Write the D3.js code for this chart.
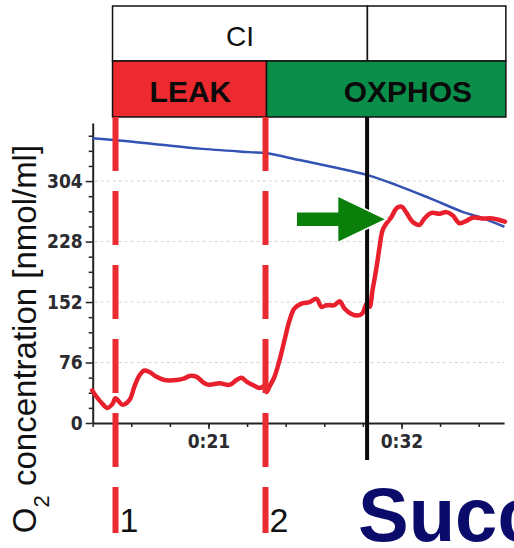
<!DOCTYPE html>
<html>
<head>
<meta charset="utf-8">
<script src="https://d3js.org/d3.v7.min.js"></script>
<style>
  body { margin: 0; background: #fff; }
  svg { display: block; }
</style>
</head>
<body>
<div id="chart"></div>
<script>
// O2 concentration trace (time in min, nmol/ml)
const blueTime  = [14.38, 16.67, 18.61, 20.49, 23.34, 24.31, 26.19, 28.07, 30.06, 31.72, 33.60, 35.48, 36.62, 37.87];
const blueValue = [357.7, 353.5, 349.0, 344.8, 340.4, 339.0, 330.4, 321.6, 311.5, 299.0, 282.6, 265.4, 257.5, 246.6];

const redTime  = [14.37, 14.62, 14.96, 15.24, 15.53, 15.70, 16.10, 16.50, 16.78, 17.07, 17.35, 17.64, 18.04, 18.49,
                  19.18, 19.63, 19.92, 20.32, 20.77, 21.06, 21.63, 22.20, 22.60, 22.88, 23.17, 23.51, 23.91, 24.19,
                  24.31, 24.48, 24.76, 25.05, 25.33, 25.62, 25.90, 26.30, 26.76, 27.16, 27.44, 27.73, 28.18, 28.47,
                  28.75, 29.15, 29.49, 29.78, 30.01, 30.18, 30.35, 30.58, 30.75, 30.92, 31.15, 31.43, 31.72, 32.00,
                  32.29, 32.63, 33.03, 33.31, 33.71, 34.17, 34.56, 34.91, 35.31, 35.70, 36.05, 36.62, 37.19, 37.90];
const redValue = [41, 33, 24, 19, 24, 31, 23, 29, 46, 60, 66, 64, 58, 54,
                  54, 56, 59, 58, 50, 48, 50, 48, 54, 57, 52, 48, 44, 46,
                  39, 46, 58, 79, 104, 129, 144, 150, 152, 156, 146, 148, 148, 153,
                  144, 137, 135, 138, 150, 146, 167, 196, 221, 242, 251, 259, 270, 272,
                  264, 253, 249, 257, 264, 263, 265, 261, 251, 254, 258, 257, 257, 253];

const yMajor = [0, 76, 152, 228, 304];
const yMinor = [19, 38, 57, 95, 114, 133, 171, 190, 209, 247, 266, 285, 323, 342, 361];
const xTicks = [14.4, 16.6, 18.8, 21, 23.2, 25.4, 27.6, 29.8, 32, 34.2, 36.4];
const xLabelTicks = [21, 32];
const xLabels = ["0:21", "0:32"];

const substrateLabels = ["CI", ""];
const substrateBounds = [15.53, 30.06, 37.95];
const stateLabels = ["LEAK", "OXPHOS"];
const stateBounds = [15.53, 24.31, 37.95];
const stateLabelTimes = [19.97, 32.37];

const eventTimes = [15.70, 24.25];
const eventLabels = ["1", "2"];
const titrationTime = 30.04;
const arrowFrom = [26.0, 256];
const arrowTo = [31.15, 256];

const W = 514, H = 548;
const x = d3.scaleLinear().domain([14.4, 37.85]).range([92.7, 504.1]);
const y = d3.scaleLinear().domain([0, 377]).range([423, 123]);

const svg = d3.select("#chart").append("svg")
    .attr("width", W).attr("height", H)
    .style("font-family", "'Liberation Sans', Arial, sans-serif");

// header boxes
const boxTop = 6, boxMid = 61, boxBot = 117;
const stateColor = ["#ec2a2f", "#0b8e4a"];

svg.selectAll(".sub")
    .data(substrateLabels)
    .enter().append("rect")
    .attr("x", (d, i) => x(substrateBounds[i]))
    .attr("y", boxTop)
    .attr("width", (d, i) => x(substrateBounds[i + 1]) - x(substrateBounds[i]))
    .attr("height", boxMid - boxTop)
    .attr("fill", "#fff")
    .attr("stroke", "#111")
    .attr("stroke-width", 1.5);

svg.selectAll(".subText")
    .data(substrateLabels)
    .enter().append("text")
    .attr("x", (d, i) => (x(substrateBounds[i]) + x(substrateBounds[i + 1])) / 2)
    .attr("y", 46)
    .attr("text-anchor", "middle")
    .style("font-size", "28px")
    .attr("fill", "#111")
    .text(d => d);

svg.selectAll(".state")
    .data(stateLabels)
    .enter().append("rect")
    .attr("x", (d, i) => x(stateBounds[i]))
    .attr("y", boxMid)
    .attr("width", (d, i) => x(stateBounds[i + 1]) - x(stateBounds[i]))
    .attr("height", boxBot - boxMid)
    .attr("fill", (d, i) => stateColor[i])
    .attr("stroke", "#111")
    .attr("stroke-width", 1.5);

svg.selectAll(".stateText")
    .data(stateLabels)
    .enter().append("text")
    .attr("x", (d, i) => x(stateLabelTimes[i]))
    .attr("y", 102)
    .attr("text-anchor", "middle")
    .style("font-size", "30px")
    .style("font-weight", "bold")
    .attr("fill", "#0a0a0a")
    .text(d => d);

// grid
svg.append("g")
    .selectAll("line")
    .data(yMajor.slice(1))
    .enter().append("line")
    .attr("x1", x.range()[0] + 2).attr("x2", x.range()[1])
    .attr("y1", d => y(d)).attr("y2", d => y(d))
    .attr("stroke", "#d4d4d4")
    .attr("stroke-width", 1)
    .attr("stroke-dasharray", "3,3");

// axes
const tickFont = "'Liberation Sans Narrow', 'DejaVu Sans Condensed', 'Liberation Sans', sans-serif";

const yMinorAxis = svg.append("g")
    .attr("transform", `translate(${x.range()[0]},0)`)
    .call(d3.axisLeft(y).tickValues(yMinor).tickSize(4).tickSizeOuter(0).tickFormat(""));
yMinorAxis.select(".domain").attr("stroke", "#222").attr("stroke-width", 2);
yMinorAxis.selectAll(".tick line").attr("stroke", "#222").attr("stroke-width", 1.5);

const yAxis = svg.append("g")
    .attr("transform", `translate(${x.range()[0]},0)`)
    .call(d3.axisLeft(y).tickValues(yMajor).tickSize(7).tickPadding(3));
yAxis.select(".domain").remove();
yAxis.selectAll(".tick line").attr("stroke", "#222").attr("stroke-width", 1.5);
yAxis.selectAll(".tick text")
    .style("font-family", tickFont)
    .style("font-size", "19px")
    .style("font-weight", "bold")
    .attr("fill", "#2b2b30");

const xAxis = svg.append("g")
    .attr("transform", `translate(0,${y(0)})`)
    .call(d3.axisBottom(x).tickValues(xTicks).tickSize(4).tickSizeOuter(0).tickFormat(""));
xAxis.select(".domain").attr("stroke", "#222").attr("stroke-width", 2);
xAxis.selectAll(".tick line").attr("stroke", "#222").attr("stroke-width", 1.5);

const xLab = svg.append("g")
    .attr("transform", `translate(0,${y(0)})`)
    .call(d3.axisBottom(x).tickValues(xLabelTicks).tickSize(6).tickPadding(6)
        .tickFormat((d, i) => xLabels[i]));
xLab.select(".domain").remove();
xLab.selectAll(".tick line").attr("stroke", "#222").attr("stroke-width", 1.5);
xLab.selectAll(".tick text")
    .style("font-family", tickFont)
    .style("font-size", "19px")
    .style("font-weight", "bold")
    .attr("fill", "#2b2b30");

// y title
svg.append("text")
    .attr("transform", `translate(36,${339}) rotate(-90)`)
    .attr("text-anchor", "middle")
    .style("font-size", "33px")
    .attr("fill", "#111")
    .call(t => {
        t.append("tspan").text("O");
        t.append("tspan").attr("baseline-shift", "sub").style("font-size", "22px").text("2");
        t.append("tspan").text(" concentration [nmol/ml]");
    });

// traces
const blueData = blueTime.map((t, i) => [t, blueValue[i]]);
const redData = redTime.map((t, i) => [t, redValue[i]]);
const line = d3.line().x(d => x(d[0])).y(d => y(d[1])).curve(d3.curveCatmullRom);

svg.append("path")
    .datum(blueData)
    .attr("fill", "none")
    .attr("stroke", "#3452b4")
    .attr("stroke-width", 2.5)
    .attr("d", line);

svg.append("path")
    .datum(redData)
    .attr("fill", "none")
    .attr("stroke", "#e8202e")
    .attr("stroke-width", 4.5)
    .attr("stroke-linejoin", "round")
    .attr("stroke-linecap", "round")
    .attr("d", line);

// event markers
svg.selectAll(".event")
    .data(eventTimes)
    .enter().append("line")
    .attr("x1", d => x(d)).attr("x2", d => x(d))
    .attr("y1", boxBot).attr("y2", 533)
    .attr("stroke", "#ea2b2f")
    .attr("stroke-width", 6)
    .attr("stroke-dasharray", "54,20");

svg.selectAll(".eventText")
    .data(eventLabels)
    .enter().append("text")
    .attr("x", (d, i) => x(eventTimes[i]) + 4)
    .attr("y", 532)
    .style("font-size", "34px")
    .attr("fill", "#111")
    .text(d => d);

svg.append("line")
    .attr("x1", x(titrationTime)).attr("x2", x(titrationTime))
    .attr("y1", boxBot).attr("y2", 460)
    .attr("stroke", "#0a0a0a")
    .attr("stroke-width", 4);

// arrow
const ax0 = x(arrowFrom[0]), ax1 = x(arrowTo[0]), ay = y(arrowTo[1]);
const headLen = 49;
svg.append("path")
    .attr("d", `M${ax0},${ay - 7.5} L${ax1 - headLen},${ay - 7.5} L${ax1 - headLen},${ay - 23.5}
                L${ax1},${ay} L${ax1 - headLen},${ay + 23.5} L${ax1 - headLen},${ay + 7.5} L${ax0},${ay + 7.5} Z`)
    .attr("fill", "#0a7f0a")
    .attr("stroke", "#fff")
    .attr("stroke-width", 1.5)
    .attr("stroke-linejoin", "miter");

// bottom caption
svg.append("text")
    .attr("x", 358)
    .attr("y", 541)
    .style("font-size", "76px")
    .style("font-weight", "bold")
    .attr("fill", "#0b0b6b")
    .text("Succ");
</script>
</body>
</html>
